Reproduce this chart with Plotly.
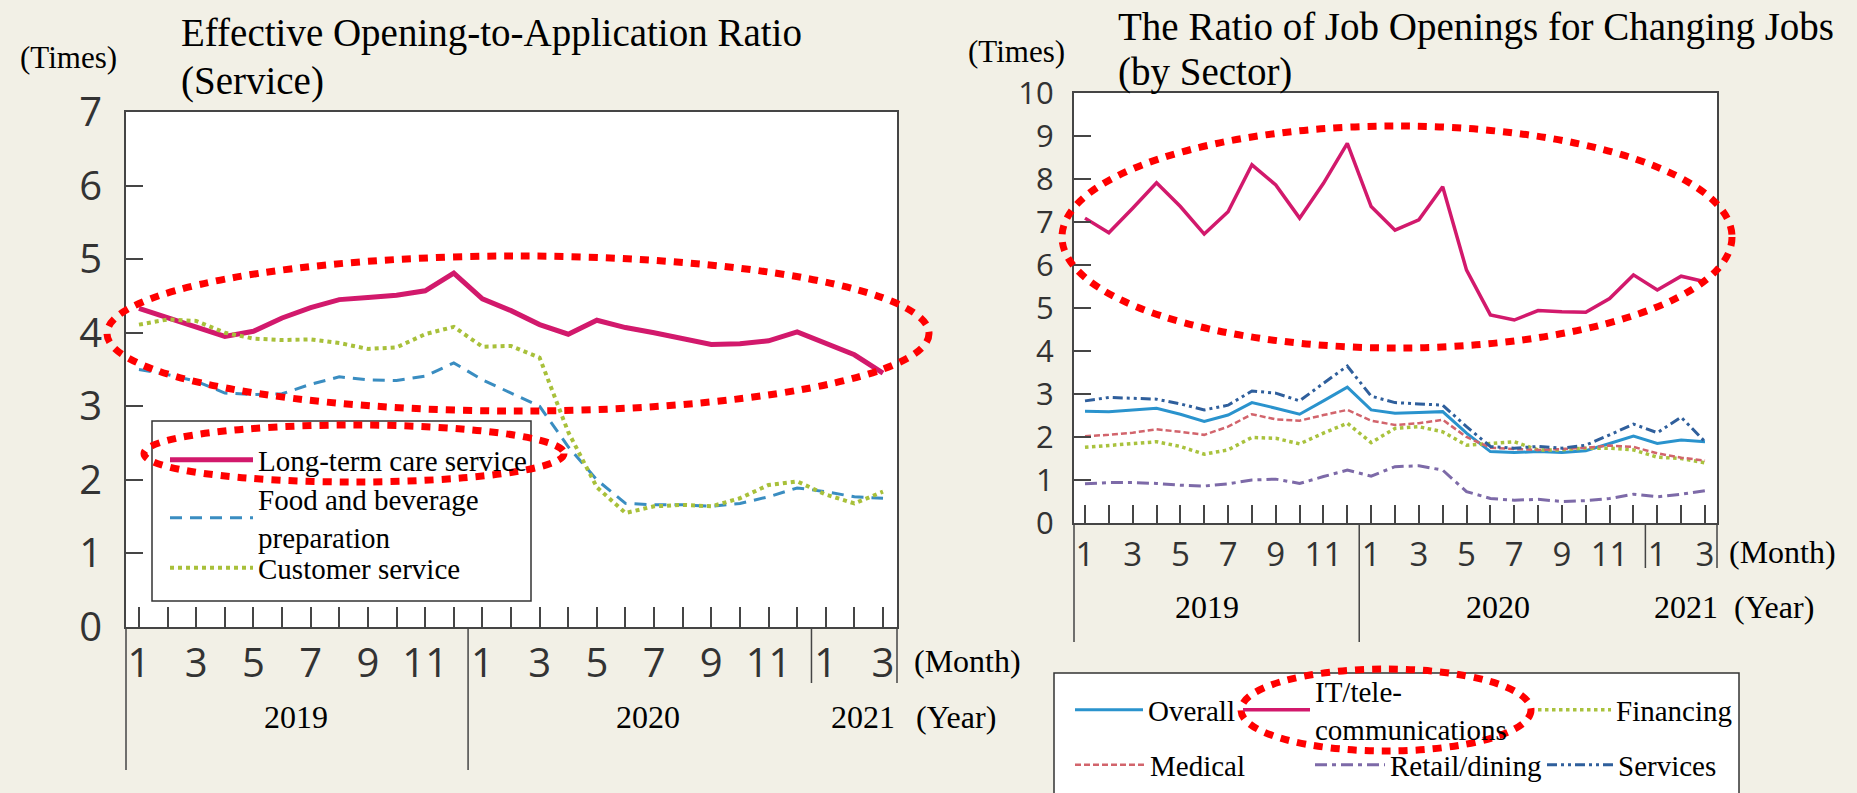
import plotly.graph_objects as go

# ---------------- data ----------------
months = [1, 2, 3, 4, 5, 6, 7, 8, 9, 10, 11, 12,
          1, 2, 3, 4, 5, 6, 7, 8, 9, 10, 11, 12,
          1, 2, 3]
month_idx = list(range(len(months)))
month_text = [str(m) if m % 2 == 1 else "" for m in months]
years = ["2019", "2020", "2021"]

# Left chart: Effective Opening-to-Application Ratio (Service)
care = [4.33, 4.20, 4.08, 3.95, 4.02, 4.20, 4.34, 4.45, 4.48, 4.51, 4.57, 4.81,
        4.46, 4.30, 4.11, 3.98, 4.17, 4.07, 4.00, 3.92, 3.84, 3.85, 3.89, 4.01,
        3.86, 3.70, 3.45]
food = [3.50, 3.43, 3.34, 3.18, 3.16, 3.17, 3.30, 3.40, 3.36, 3.35, 3.41, 3.59,
        3.36, 3.18, 3.00, 2.45, 2.00, 1.68, 1.66, 1.66, 1.64, 1.68, 1.77, 1.89,
        1.84, 1.77, 1.75]
customer = [4.11, 4.18, 4.16, 4.00, 3.92, 3.90, 3.91, 3.86, 3.78, 3.80, 3.98, 4.08,
            3.81, 3.82, 3.66, 2.65, 1.90, 1.55, 1.64, 1.66, 1.64, 1.75, 1.93, 1.98,
            1.80, 1.68, 1.84]

# Right chart: The Ratio of Job Openings for Changing Jobs (by Sector)
overall = [2.60, 2.59, 2.63, 2.67, 2.53, 2.36, 2.51, 2.80, 2.67, 2.53, 2.84, 3.16,
           2.63, 2.55, 2.57, 2.59, 2.09, 1.66, 1.64, 1.66, 1.64, 1.68, 1.85, 2.02,
           1.85, 1.93, 1.89]
it_tele = [7.09, 6.75, 7.32, 7.91, 7.36, 6.72, 7.24, 8.33, 7.86, 7.09, 7.90, 8.83,
           7.36, 6.81, 7.05, 7.82, 5.88, 4.84, 4.72, 4.94, 4.91, 4.90, 5.22, 5.77,
           5.42, 5.74, 5.61]
financing = [1.76, 1.81, 1.85, 1.89, 1.78, 1.60, 1.70, 1.99, 1.97, 1.84, 2.09, 2.32,
             1.87, 2.20, 2.24, 2.12, 1.81, 1.85, 1.89, 1.70, 1.70, 1.74, 1.74, 1.70,
             1.53, 1.50, 1.40]
medical = [2.02, 2.05, 2.10, 2.18, 2.12, 2.05, 2.24, 2.53, 2.41, 2.38, 2.51, 2.63,
           2.38, 2.28, 2.32, 2.40, 2.00, 1.75, 1.72, 1.70, 1.72, 1.75, 1.80, 1.77,
           1.62, 1.52, 1.45]
retail = [0.91, 0.94, 0.94, 0.92, 0.88, 0.86, 0.91, 1.00, 1.02, 0.92, 1.08, 1.23,
          1.09, 1.31, 1.33, 1.23, 0.73, 0.57, 0.53, 0.55, 0.50, 0.52, 0.57, 0.67,
          0.61, 0.67, 0.75]
services = [2.84, 2.92, 2.90, 2.88, 2.77, 2.63, 2.74, 3.07, 3.02, 2.84, 3.25, 3.65,
            2.95, 2.80, 2.77, 2.74, 2.24, 1.78, 1.74, 1.78, 1.74, 1.81, 2.05, 2.30,
            2.10, 2.46, 1.89]

# ---------------- styling / layout helpers ----------------
W, H = 1857, 793
BG = "#F2F0E6"
AX = "#454545"
SERIF = "Liberation Serif, Times New Roman, serif"
SANS = "Open Sans, Noto Sans, sans-serif"


def px(x):
    return x / W


def py(y):
    return 1 - y / H


fig = go.Figure()


def add_line(x, y, name, color, width, dash, xa, ya, legend):
    fig.add_trace(go.Scatter(
        x=x, y=y, name=name, mode="lines",
        line=dict(color=color, width=width, dash=dash),
        xaxis=xa, yaxis=ya, legend=legend, showlegend=True,
    ))


MAG = "#D2196C"
add_line(month_idx, care, "Long-term care service", MAG, 5, "solid", "x", "y", "legend")
add_line(month_idx, food, "Food and beverage<br>preparation", "#3A8DC1", 3, "12px,8px", "x", "y", "legend2")
add_line(month_idx, customer, "Customer service", "#A8C03A", 4, "dot", "x", "y", "legend3")

add_line(month_idx, overall, "Overall", "#2A93CD", 3, "solid", "x2", "y2", "legend4")
add_line(month_idx, it_tele, "IT/tele-<br>communications", MAG, 3.5, "solid", "x2", "y2", "legend5")
add_line(month_idx, financing, "Financing", "#A9C23D", 3.5, "dot", "x2", "y2", "legend6")
add_line(month_idx, medical, "Medical", "#D2646C", 2.5, "6px,3px", "x2", "y2", "legend7")
add_line(month_idx, retail, "Retail/dining", "#7D6AA8", 3, "12px,5px,4px,5px", "x2", "y2", "legend8")
add_line(month_idx, services, "Services", "#2F5F9C", 3, "10px,4px,3px,4px,3px,4px", "x2", "y2", "legend9")

# legends: one per entry, placed where the reference shows them
leg_specs = {
    "legend": (170, 460, 83),
    "legend2": (170, 518, 83),
    "legend3": (170, 568, 83),
    "legend4": (1075, 710, 68),
    "legend5": (1243, 710, 67),
    "legend6": (1538, 710, 73),
    "legend7": (1075, 765, 70),
    "legend8": (1315, 765, 70),
    "legend9": (1547, 765, 66),
}
leg_layout = {}
for key, (lx, ly, iw) in leg_specs.items():
    leg_layout[key] = dict(
        x=px(lx - 5), y=py(ly), xanchor="left", yanchor="middle",
        bgcolor="rgba(0,0,0,0)", borderwidth=0, itemwidth=iw,
        font=dict(family=SERIF, size=29, color="black"),
        orientation="v", itemclick=False, itemdoubleclick=False,
    )

common_x = dict(
    tickmode="array", tickvals=month_idx, ticktext=month_text,
    ticks="inside", tickwidth=1.5, tickcolor=AX,
    showline=True, linecolor=AX, linewidth=2, mirror=True,
    showgrid=False, zeroline=False,
)
common_y = dict(
    ticks="inside", tickwidth=1.5, tickcolor=AX, dtick=1,
    showline=True, linecolor=AX, linewidth=2, mirror=True,
    showgrid=False, zeroline=False,
)

fig.update_layout(
    width=W, height=H, margin=dict(l=0, r=0, t=0, b=0, pad=0, autoexpand=False),
    paper_bgcolor=BG, plot_bgcolor="white",
    xaxis=dict(common_x, domain=[px(126), px(897)], range=[-0.454, 26.489],
               ticklen=20, tickfont=dict(family=SANS, size=40, color="#333"),
               ticklabelstandoff=0, anchor="y"),
    yaxis=dict(common_y, domain=[py(627), py(112)], range=[0, 7],
               ticklen=17, tickfont=dict(family=SANS, size=40, color="#333"),
               ticklabelstandoff=14, anchor="x"),
    xaxis2=dict(common_x, domain=[px(1074), px(1717)], range=[-0.461, 26.503],
                ticklen=18, tickfont=dict(family=SANS, size=33, color="#333"),
                ticklabelstandoff=1, anchor="y2"),
    yaxis2=dict(common_y, domain=[py(523), py(93)], range=[0, 10],
                ticklen=17, tickfont=dict(family=SANS, size=31, color="#333"),
                ticklabelstandoff=12, anchor="x2"),
    **leg_layout,
)

shapes = []


def vline(xref, x, y0, y1):
    shapes.append(dict(type="line", xref=xref, yref="paper", x0=x, x1=x,
                       y0=py(y0), y1=py(y1), line=dict(color=AX, width=1.5)))


# separators below the axes (month / year rows)
vline("x domain", 0, 627, 770)
vline("x", 11.5, 627, 770)
vline("x", 23.5, 627, 683)
vline("x domain", 1, 627, 683)
vline("x2 domain", 0, 523, 642)
vline("x2", 11.5, 523, 642)
vline("x2", 23.5, 523, 568)
vline("x2 domain", 1, 523, 568)

# legend boxes
shapes.append(dict(type="rect", xref="paper", yref="paper", x0=px(152), x1=px(531),
                   y0=py(601), y1=py(421), fillcolor="white",
                   line=dict(color="#333", width=1.5), layer="above"))
shapes.append(dict(type="rect", xref="paper", yref="paper", x0=px(1054), x1=px(1739),
                   y0=py(800), y1=py(673), fillcolor="white",
                   line=dict(color="#333", width=1.5), layer="above"))

# red dotted highlight ellipses
for (x0, x1, y0, y1) in [(107, 929, 256, 411), (144, 564, 425, 482),
                         (1062, 1732, 126, 348), (1241, 1531, 669, 751)]:
    shapes.append(dict(type="circle", xref="paper", yref="paper",
                       x0=px(x0), x1=px(x1), y0=py(y1), y1=py(y0),
                       line=dict(color="#FF0000", width=7, dash="9px,8px"),
                       layer="above"))

fig.update_layout(shapes=shapes)

ann = []


def text(x, y, s, size, xanchor="left", xref="paper"):
    ann.append(dict(x=x if xref != "paper" else px(x), y=py(y), xref=xref, yref="paper",
                    text=s, showarrow=False, xanchor=xanchor, yanchor="middle",
                    font=dict(family=SERIF, size=size, color="black")))


text(179, 33, "Effective Opening-to-Application Ratio", 39)
text(179, 81, "(Service)", 39)
text(18, 58, "(Times)", 31)
text(1116, 27, "The Ratio of Job Openings for Changing Jobs", 39)
text(1116, 72, "(by Sector)", 39)
text(966, 52, "(Times)", 31)

text(912, 661, "(Month)", 32)
text(914, 717, "(Year)", 32)
text(1727, 552, "(Month)", 32)
text(1732, 607, "(Year)", 32)

for yr, xc in zip(years, [5.5, 17.8, 25.3]):
    text(xc, 717, yr, 32, xanchor="center", xref="x")
for yr, xc in zip(years, [5.1, 17.3, 25.2]):
    text(xc, 607, yr, 32, xanchor="center", xref="x2")

fig.update_layout(annotations=ann)

fig.write_html("out.html", config={"displayModeBar": False},
               post_script="document.body.style.margin='0';")
